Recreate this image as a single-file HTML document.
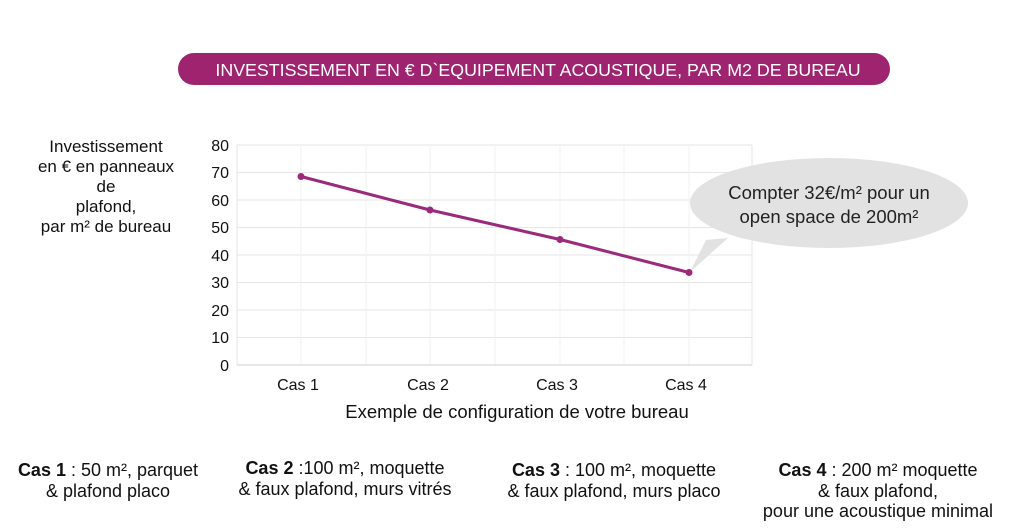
<!DOCTYPE html>
<html><head><meta charset="utf-8"><style>
body{margin:0;background:#fff;}
svg{display:block;font-family:"Liberation Sans",Arial,sans-serif;}
</style></head><body>
<svg width="1024" height="532" viewBox="0 0 1024 532">
<rect x="178" y="53" width="712" height="32" rx="16" fill="#9e2470"/>
<text x="538" y="76" text-anchor="middle" font-size="17.8" fill="#fff">INVESTISSEMENT EN € D`EQUIPEMENT ACOUSTIQUE, PAR M2 DE BUREAU</text>

<g font-size="17" fill="#111" text-anchor="middle">
<text x="106" y="152">Investissement</text>
<text x="106" y="172">en €  en panneaux</text>
<text x="106" y="192">de</text>
<text x="106" y="212">plafond,</text>
<text x="106" y="232">par m² de bureau</text>
</g>

<g stroke="#e6e6e6" stroke-width="1">
<line x1="237" y1="145" x2="752" y2="145"/>
<line x1="237" y1="172.5" x2="752" y2="172.5"/>
<line x1="237" y1="200" x2="752" y2="200"/>
<line x1="237" y1="227.5" x2="752" y2="227.5"/>
<line x1="237" y1="255" x2="752" y2="255"/>
<line x1="237" y1="282.5" x2="752" y2="282.5"/>
<line x1="237" y1="310" x2="752" y2="310"/>
<line x1="237" y1="337.5" x2="752" y2="337.5"/>
<line x1="237" y1="145" x2="237" y2="365"/>
<line x1="752" y1="145" x2="752" y2="365"/>
</g>
<g stroke="#f2f2f2" stroke-width="1">
<line x1="301" y1="145" x2="301" y2="365"/>
<line x1="366" y1="145" x2="366" y2="365"/>
<line x1="430" y1="145" x2="430" y2="365"/>
<line x1="495" y1="145" x2="495" y2="365"/>
<line x1="560" y1="145" x2="560" y2="365"/>
<line x1="624" y1="145" x2="624" y2="365"/>
<line x1="689" y1="145" x2="689" y2="365"/>
</g>
<line x1="237" y1="365" x2="752" y2="365" stroke="#d0d0d0"/>

<g font-size="16" fill="#111" text-anchor="end">
<text x="229" y="151">80</text>
<text x="229" y="178">70</text>
<text x="229" y="206">60</text>
<text x="229" y="233">50</text>
<text x="229" y="261">40</text>
<text x="229" y="288">30</text>
<text x="229" y="316">20</text>
<text x="229" y="343">10</text>
<text x="229" y="371">0</text>
</g>
<g font-size="16" fill="#111" text-anchor="middle">
<text x="298" y="390">Cas 1</text>
<text x="428" y="390">Cas 2</text>
<text x="557" y="390">Cas 3</text>
<text x="686" y="390">Cas 4</text>
</g>
<text x="517" y="418" font-size="18.5" fill="#111" text-anchor="middle">Exemple de configuration de votre bureau</text>

<ellipse cx="829" cy="203" rx="139" ry="45" fill="#e2e2e2"/>
<polygon points="690,272 706,240 728,238" fill="#e2e2e2"/>
<g font-size="18.5" fill="#222" text-anchor="middle">
<text x="829" y="199">Compter 32€/m² pour un</text>
<text x="829" y="223">open space de 200m²</text>
</g>

<polyline points="301,176.5 430,210 560,239.5 689,272.5" fill="none" stroke="#9b2a7a" stroke-width="3"/>
<g fill="#9b2a7a">
<circle cx="301" cy="176.5" r="3.5"/><circle cx="430" cy="210" r="3.5"/>
<circle cx="560" cy="239.5" r="3.5"/><circle cx="689" cy="272.5" r="3.5"/>
</g>

<g font-size="18" fill="#111" text-anchor="middle">
<text x="108" y="476"><tspan font-weight="bold">Cas 1</tspan> : 50 m², parquet</text>
<text x="108" y="497">&amp; plafond placo</text>
<text x="345" y="474"><tspan font-weight="bold">Cas 2</tspan> :100 m², moquette</text>
<text x="345" y="495">&amp; faux plafond, murs vitrés</text>
<text x="614" y="476"><tspan font-weight="bold">Cas 3</tspan> : 100 m², moquette</text>
<text x="614" y="497">&amp; faux plafond, murs placo</text>
<text x="878" y="476"><tspan font-weight="bold">Cas 4</tspan> : 200 m² moquette</text>
<text x="878" y="497">&amp; faux plafond,</text>
<text x="878" y="517">pour une acoustique minimal</text>
</g>
</svg>
</body></html>
